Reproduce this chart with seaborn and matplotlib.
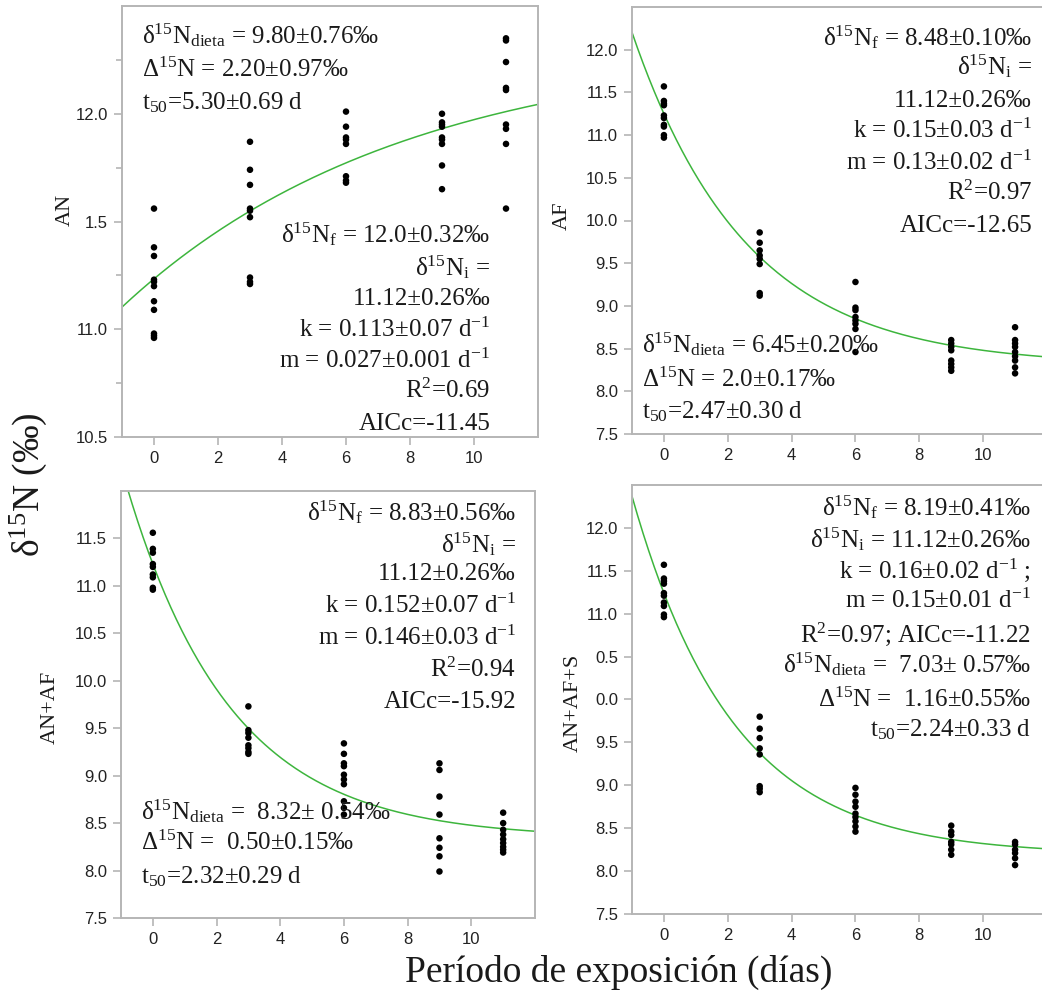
import numpy as np
import pandas as pd
import matplotlib
matplotlib.use("Agg")
import matplotlib.pyplot as plt
import seaborn as sns
from matplotlib.ticker import FixedLocator, FixedFormatter

# ---------------- data ----------------
DAYS = [0, 3, 6, 9, 11]

AN_VALUES = [
    [11.56, 11.38, 11.34, 11.23, 11.22, 11.20, 11.13, 11.09, 10.98, 10.97, 10.96],
    [11.87, 11.74, 11.67, 11.56, 11.55, 11.52, 11.24, 11.22, 11.21],
    [12.01, 11.94, 11.89, 11.88, 11.86, 11.71, 11.69, 11.68],
    [12.00, 11.96, 11.95, 11.94, 11.89, 11.88, 11.86, 11.76, 11.65],
    [12.35, 12.34, 12.24, 12.12, 12.11, 11.95, 11.93, 11.86, 11.56],
]
AF_VALUES = [
    [11.57, 11.40, 11.37, 11.35, 11.23, 11.20, 11.12, 11.10, 11.00, 10.97],
    [9.86, 9.74, 9.65, 9.59, 9.55, 9.49, 9.15, 9.12],
    [9.28, 8.98, 8.95, 8.87, 8.83, 8.79, 8.73, 8.46],
    [8.60, 8.56, 8.52, 8.48, 8.36, 8.32, 8.28, 8.24],
    [8.75, 8.60, 8.56, 8.52, 8.46, 8.41, 8.36, 8.28, 8.21],
]
ANAF_VALUES = [
    [11.56, 11.39, 11.35, 11.23, 11.20, 11.12, 11.09, 10.98, 10.96],
    [9.73, 9.48, 9.45, 9.40, 9.32, 9.29, 9.25, 9.23],
    [9.34, 9.23, 9.13, 9.10, 9.01, 8.96, 8.91, 8.73, 8.66, 8.59],
    [9.13, 9.06, 8.78, 8.59, 8.34, 8.24, 8.15, 7.99],
    [8.61, 8.50, 8.43, 8.38, 8.33, 8.29, 8.25, 8.22, 8.19],
]
ANAFS_VALUES = [
    [11.57, 11.41, 11.38, 11.35, 11.24, 11.21, 11.13, 11.09, 10.99, 10.96],
    [9.80, 9.66, 9.55, 9.43, 9.36, 8.99, 8.96, 8.92],
    [8.97, 8.89, 8.81, 8.75, 8.67, 8.63, 8.58, 8.52, 8.46],
    [8.53, 8.46, 8.42, 8.34, 8.31, 8.25, 8.19],
    [8.34, 8.31, 8.25, 8.21, 8.15, 8.07],
]

PANEL_NAMES = ["AN", "AF", "AN+AF", "AN+AF+S"]

# fitted exponential model curves: y = asymptote + amplitude * exp(-rate * t)
CURVE_ASYMPTOTE = [12.32, 8.30, 8.34, 8.19]
CURVE_AMPLITUDE = [-1.086, 2.95, 2.89, 3.05]
CURVE_RATE = [0.114, 0.28, 0.305, 0.315]

X_TICKS = [0, 2, 4, 6, 8, 10]
Y_TICKS_AN = [10.5, 11.0, 11.5, 12.0]
Y_TICKLABELS_AN = ["10.5", "11.0", "1.5", "12.0"]
Y_MINOR_AN = [10.75, 11.25, 11.75, 12.25]
Y_TICKS_STD = [7.5, 8.0, 8.5, 9.0, 9.5, 10.0, 10.5, 11.0, 11.5, 12.0]
Y_TICKLABELS_AF = ["7.5", "8.0", "8.5", "9.0", "9.5", "10.0", "10.5", "11.0", "11.5", "12.0"]
Y_TICKLABELS_ANAF = ["7.5", "8.0", "8.5", "9.0", "9.5", "10.0", "10.5", "11.0", "11.5"]
Y_TICKLABELS_ANAFS = ["7.5", "8.0", "8.5", "9.0", "9.5", "0.0", "0.5", "11.0", "11.5", "12.0"]

TEXT_AN_LEFT = [
    "δ$^{15}$N$_{\\mathrm{dieta}}$ = 9.80±0.76‰",
    "Δ$^{15}$N = 2.20±0.97‰",
    "t$_{50}$=5.30±0.69 d",
]
TEXT_AN_RIGHT = [
    "δ$^{15}$N$_{\\mathrm{f}}$ = 12.0±0.32‰",
    "δ$^{15}$N$_{\\mathrm{i}}$ =",
    "11.12±0.26‰",
    "k = 0.113±0.07 d$^{-1}$",
    "m = 0.027±0.001 d$^{-1}$",
    "R$^{2}$=0.69",
    "AICc=-11.45",
]
TEXT_AF_RIGHT = [
    "δ$^{15}$N$_{\\mathrm{f}}$ = 8.48±0.10‰",
    "δ$^{15}$N$_{\\mathrm{i}}$ =",
    "11.12±0.26‰",
    "k = 0.15±0.03 d$^{-1}$",
    "m = 0.13±0.02 d$^{-1}$",
    "R$^{2}$=0.97",
    "AICc=-12.65",
]
TEXT_AF_LEFT = [
    "δ$^{15}$N$_{\\mathrm{dieta}}$ = 6.45±0.20‰",
    "Δ$^{15}$N = 2.0±0.17‰",
    "t$_{50}$=2.47±0.30 d",
]
TEXT_ANAF_RIGHT = [
    "δ$^{15}$N$_{\\mathrm{f}}$ = 8.83±0.56‰",
    "δ$^{15}$N$_{\\mathrm{i}}$ =",
    "11.12±0.26‰",
    "k = 0.152±0.07 d$^{-1}$",
    "m = 0.146±0.03 d$^{-1}$",
    "R$^{2}$=0.94",
    "AICc=-15.92",
]
TEXT_ANAF_LEFT = [
    "δ$^{15}$N$_{\\mathrm{dieta}}$ =  8.32± 0.54‰",
    "Δ$^{15}$N =  0.50±0.15‰",
    "t$_{50}$=2.32±0.29 d",
]
TEXT_ANAFS_RIGHT = [
    "δ$^{15}$N$_{\\mathrm{f}}$ = 8.19±0.41‰",
    "δ$^{15}$N$_{\\mathrm{i}}$ = 11.12±0.26‰",
    "k = 0.16±0.02 d$^{-1}$ ;",
    "m = 0.15±0.01 d$^{-1}$",
    "R$^{2}$=0.97; AICc=-11.22",
    "δ$^{15}$N$_{\\mathrm{dieta}}$ =  7.03± 0.57‰",
    "Δ$^{15}$N =  1.16±0.55‰",
    "t$_{50}$=2.24±0.33 d",
]

# ---------------- style ----------------
sns.set_style("ticks")
SERIF = ["Liberation Serif", "DejaVu Serif"]
plt.rcParams["font.family"] = ["Liberation Sans", "DejaVu Sans"]
plt.rcParams["mathtext.fontset"] = "custom"
plt.rcParams["mathtext.rm"] = "Liberation Serif"
plt.rcParams["mathtext.it"] = "Liberation Serif:italic"
plt.rcParams["mathtext.bf"] = "Liberation Serif:bold"

SPINE = "#b5b5b5"
TXT = "#1a1a1a"
GREEN = "#3db53d"

W, H = 1042, 999
fig = plt.figure(figsize=(W / 100, H / 100), dpi=100)


def rect(left, right, top, bottom):
    return [left / W, 1 - bottom / H, (right - left) / W, (bottom - top) / H]


panels = [
    dict(values=AN_VALUES, rect=rect(122, 538, 6, 437), ylim=(10.5, 12.5),
         yticks=Y_TICKS_AN, ylabels=Y_TICKLABELS_AN, minor=Y_MINOR_AN,
         label_xy=(-0.137, 0.527),
         texts=[(TEXT_AN_LEFT, 0.048, [0.914, 0.835, 0.759], "left"),
                (TEXT_AN_RIGHT, 0.885, [0.452, 0.376, 0.306, 0.232, 0.160, 0.090, 0.016], "right")]),
    dict(values=AF_VALUES, rect=rect(632, 1047, 7, 434), ylim=(7.5, 12.5),
         yticks=Y_TICKS_STD, ylabels=Y_TICKLABELS_AF, minor=None,
         label_xy=(-0.167, 0.51),
         texts=[(TEXT_AF_RIGHT, 0.964, [0.911, 0.841, 0.766, 0.693, 0.618, 0.548, 0.473], "right"),
                (TEXT_AF_LEFT, 0.024, [0.190, 0.110, 0.037], "left")]),
    dict(values=ANAF_VALUES, rect=rect(121, 535, 491, 918), ylim=(7.5, 12.0),
         yticks=Y_TICKS_STD[:-1], ylabels=Y_TICKLABELS_ANAF, minor=None,
         label_xy=(-0.171, 0.494),
         texts=[(TEXT_ANAF_RIGHT, 0.954, [0.932, 0.857, 0.792, 0.714, 0.639, 0.564, 0.492], "right"),
                (TEXT_ANAF_LEFT, 0.048, [0.230, 0.159, 0.082], "left")]),
    dict(values=ANAFS_VALUES, rect=rect(632, 1047, 485, 914), ylim=(7.5, 12.5),
         yticks=Y_TICKS_STD, ylabels=Y_TICKLABELS_ANAFS, minor=None,
         label_xy=(-0.142, 0.492),
         texts=[(TEXT_ANAFS_RIGHT, 0.961, [0.930, 0.855, 0.783, 0.713, 0.634, 0.564, 0.483, 0.413], "right")]),
]

t_grid = np.linspace(-1, 12, 300)

for i, p in enumerate(panels):
    ax = fig.add_axes(p["rect"])
    rows = [(d, v) for d, vals in zip(DAYS, p["values"]) for v in vals]
    df = pd.DataFrame(rows, columns=["dia", "d15N"])
    curve = pd.DataFrame({
        "dia": t_grid,
        "d15N": CURVE_ASYMPTOTE[i] + CURVE_AMPLITUDE[i] * np.exp(-CURVE_RATE[i] * t_grid),
    })
    sns.lineplot(data=curve, x="dia", y="d15N", ax=ax, color=GREEN, linewidth=1.1, zorder=2)
    sns.scatterplot(data=df, x="dia", y="d15N", ax=ax, color="black", s=22,
                    edgecolor="none", linewidth=0, zorder=3)
    ax.set_xlim(-1, 12)
    ax.set_ylim(*p["ylim"])
    ax.xaxis.set_major_locator(FixedLocator(X_TICKS))
    ax.set_xticklabels([str(t) for t in X_TICKS])
    ax.yaxis.set_major_locator(FixedLocator(p["yticks"]))
    ax.yaxis.set_major_formatter(FixedFormatter(p["ylabels"]))
    if p["minor"]:
        ax.yaxis.set_minor_locator(FixedLocator(p["minor"]))
        ax.tick_params(axis="y", which="minor", length=4, width=1.2, color=SPINE)
    ax.tick_params(axis="both", which="major", length=6, width=1.2, color=SPINE,
                   labelsize=12, labelcolor="#222222", pad=4)
    for s in ["left", "bottom", "top", "right"]:
        ax.spines[s].set_color(SPINE)
        ax.spines[s].set_linewidth(1.4)
    ax.set_xlabel("")
    ax.set_ylabel(PANEL_NAMES[i], family=SERIF, fontsize=16, color=TXT, va="center")
    ax.yaxis.set_label_coords(*p["label_xy"])
    for lines, x, ys, ha in p["texts"]:
        for line, y in zip(lines, ys):
            ax.text(x, y, line, transform=ax.transAxes, ha=ha, va="baseline",
                    family=SERIF, fontsize=18, color=TXT, zorder=4)

fig.text(28 / W, 1 - 485 / H, "δ$^{15}$N (‰)", rotation=90, ha="center", va="center",
         family=SERIF, fontsize=27, color=TXT)
fig.text(619 / W, 1 - 972 / H, "Período de exposición (días)", ha="center", va="center",
         family=SERIF, fontsize=27, color=TXT)

fig.savefig("out.png", dpi=100)
